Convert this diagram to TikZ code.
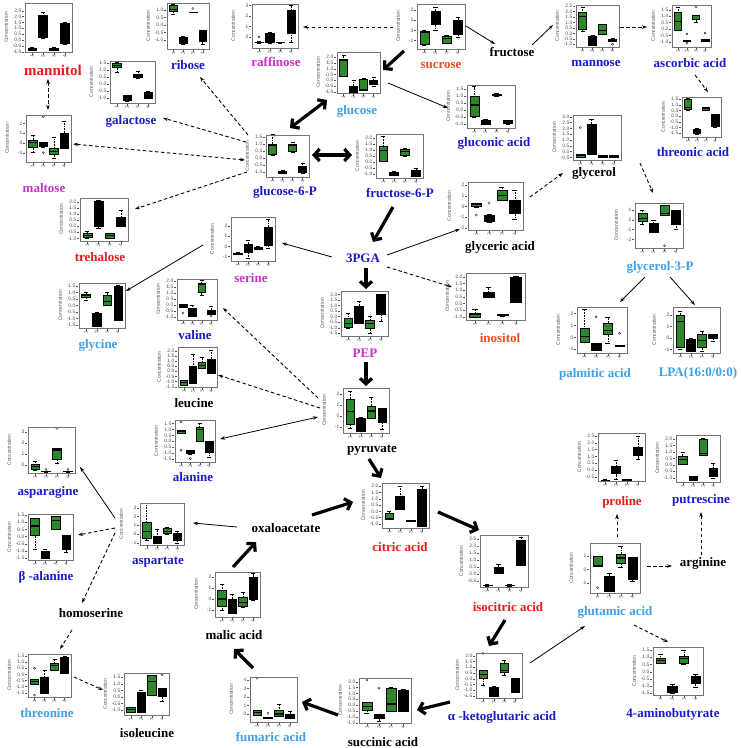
\documentclass[tikz,border=0pt]{standalone}
\usepackage{fontspec}
\setmainfont{Liberation Serif}
\setsansfont{Liberation Sans}
\usetikzlibrary{arrows.meta}
\definecolor{labred}{RGB}{235,25,25}
\definecolor{laborg}{RGB}{240,75,35}
\definecolor{labblue}{RGB}{25,25,205}
\definecolor{lablight}{RGB}{60,160,235}
\definecolor{labmag}{RGB}{205,45,205}
\definecolor{boxgreen}{RGB}{45,135,45}
\definecolor{framegray}{RGB}{115,115,115}
\definecolor{axgray}{RGB}{80,80,80}
\newcommand\labfont{\bfseries\fontsize{13}{14}\selectfont}
\newcommand\labbig{\bfseries\fontsize{15}{16}\selectfont}
\newcommand\tickfont{\sffamily\fontsize{4.9}{5.5}\selectfont}
% box: index, low whisker, q1, median, q3, high whisker
\newcommand\bxp[6]{%
  \ifodd#1\relax\def\bxc{boxgreen}\else\def\bxc{black}\fi
  \draw[whisk] (#1,#2) -- (#1,#3);
  \draw[whisk] (#1,#5) -- (#1,#6);
  \draw[staple] ({#1-0.2},#2) -- ({#1+0.2},#2);
  \draw[staple] ({#1-0.2},#6) -- ({#1+0.2},#6);
  \filldraw[fill=\bxc,draw=black,line width=0.35pt] ({#1-0.4},#3) rectangle ({#1+0.4},#5);
  \draw[line width=1.1pt] ({#1-0.4},#4) -- ({#1+0.4},#4);
}
\newcommand\olp[2]{\draw[line width=0.3pt] (#1,#2) circle[radius=1.1pt];}
% chart: name, left, top, width, height, ymin, ymax, ticks, boxes
\newcommand\mychart[9]{%
  \pgfmathsetmacro\cxu{#4/4.3}%
  \pgfmathsetmacro\cyu{#5/((#7)-(#6))}%
  \begin{scope}[shift={(#2,{#3+#5})}]
  \begin{scope}[x=\cxu pt, y=\cyu pt, shift={(-0.35,{-(#6)})}]
    #9
    \node[framebox, minimum width=#4pt, minimum height=#5pt, anchor=south west] (#1) at (0.35,#6) {};
    \foreach \t in {#8} {\draw[axline] (0.35,\t) ++(-1.5pt,0) -- ++(-1.5pt,0) node[ticklab,anchor=east]{\t};}
    \foreach \i in {1,2,3,4} {\draw[axline] (\i,#6) ++(0,-1pt) -- ++(0,-1.5pt) node[ticklab,rotate=90,anchor=east]{\i};}
    \path (0.35,{((#6)+(#7))/2}) ++(-19pt,0) node[ticklab,rotate=90]{Concentration};
  \end{scope}
  \end{scope}
}
\begin{document}
\begin{tikzpicture}[x=1pt,y=-1pt,
  framebox/.style={draw=framegray,line width=0.5pt,inner sep=0pt,outer sep=0pt},
  whisk/.style={line width=0.35pt,dash pattern=on 0.8pt off 0.8pt},
  staple/.style={line width=0.35pt},
  axline/.style={line width=0.3pt,draw=axgray},
  ticklab/.style={font=\tickfont,text=axgray,inner sep=0.6pt},
  lab/.style={font=\labfont,inner sep=0pt},
  thickarr/.style={line width=3.2pt,-{Straight Barb[length=5.5pt,width=12pt]}},
  thickdbl/.style={line width=3.2pt,{Straight Barb[length=5.5pt,width=12pt]}-{Straight Barb[length=5.5pt,width=12pt]}},
  thinarr/.style={line width=0.8pt,-{Stealth[length=5pt,width=3.5pt]}},
  thindbl/.style={line width=0.8pt,{Stealth[length=5pt,width=3.5pt]}-{Stealth[length=5pt,width=3.5pt]}},
  dasharr/.style={line width=0.9pt,dash pattern=on 3.5pt off 2.5pt,-{Stealth[length=5pt,width=3.5pt]}},
  dashdbl/.style={line width=0.9pt,dash pattern=on 3.5pt off 2.5pt,{Stealth[length=5pt,width=3.5pt]}-{Stealth[length=5pt,width=3.5pt]}}
]
\useasboundingbox[fill=white] (0,0) rectangle (740,748);

% ---------- charts ----------
\mychart{mannitol}{25}{3}{47}{49}{-1.03}{3.16}{-1.0,-0.5,0.0,0.5,1.0,1.5,2.0,2.5}{
 \bxp{1}{-0.9}{-0.85}{-0.78}{-0.68}{-0.65}\bxp{2}{0.15}{0.25}{1.0}{2.1}{2.4}
 \bxp{3}{-0.9}{-0.85}{-0.78}{-0.7}{-0.65}\bxp{4}{-0.35}{-0.3}{0.5}{1.4}{1.5}}
\mychart{ribose}{167}{3}{42}{46}{-1.62}{1.47}{-1.0,-0.5,0.0,0.5,1.0}{
 \bxp{1}{0.7}{0.95}{1.05}{1.3}{1.4}\bxp{2}{-1.3}{-1.25}{-1.1}{-0.8}{-0.78}
 \bxp{3}{0.83}{0.84}{0.85}{0.87}{0.88}\olp{3}{1.1}\bxp{4}{-1.3}{-1.1}{-0.9}{-0.35}{-0.35}}
\mychart{galactose}{110}{61}{45}{42}{-1.38}{1.62}{-1.0,-0.5,0.0,0.5,1.0,1.5}{
 \bxp{1}{0.85}{1.15}{1.3}{1.45}{1.55}\bxp{2}{-1.25}{-1.2}{-1.1}{-0.85}{-0.8}
 \bxp{3}{0.4}{0.45}{0.55}{0.65}{0.9}\bxp{4}{-1.05}{-1.0}{-0.8}{-0.6}{-0.5}}
\mychart{maltose}{26}{115}{45}{47}{-1.95}{2.85}{-1,0,1,2}{
 \bxp{1}{-0.9}{-0.4}{0}{0.3}{0.8}\bxp{2}{-0.4}{-0.35}{-0.2}{0.05}{0.1}\olp{2}{2.7}\olp{2}{-1.0}
 \bxp{3}{-1.6}{-1.2}{-0.9}{-0.5}{0.6}\bxp{4}{-0.5}{-0.5}{0.5}{1.0}{2.2}}
\mychart{raffinose}{252}{4}{46}{44}{-1.05}{3.14}{0,1,2,3}{
 \bxp{1}{-0.55}{-0.52}{-0.5}{-0.45}{-0.42}\olp{1}{0}\bxp{2}{-0.55}{-0.5}{0}{0.4}{0.45}
 \bxp{3}{-0.55}{-0.52}{-0.5}{-0.48}{-0.45}\bxp{4}{-0.5}{0.4}{1.5}{2.6}{3.0}}
\mychart{sucrose}{417}{4}{48}{45}{-1.84}{2.59}{-1,0,1,2}{
 \bxp{1}{-1.45}{-1.37}{-0.2}{-0.07}{0}\bxp{2}{0}{0.65}{1.2}{1.9}{2.25}
 \bxp{3}{-1.3}{-1.25}{-0.85}{-0.55}{-0.45}\bxp{4}{-0.7}{-0.4}{0.3}{1.0}{1.3}}
\mychart{glucose}{337}{52}{43}{41}{-1.11}{2.46}{-1.0,-0.5,0.0,0.5,1.0,1.5,2.0}{
 \bxp{1}{0.35}{0.35}{1.75}{1.8}{2.2}\bxp{2}{-1.0}{-1.0}{-0.7}{-0.5}{0.0}
 \bxp{3}{-0.9}{-0.9}{-0.85}{0.1}{0.2}\bxp{4}{-0.55}{-0.35}{-0.15}{0.05}{0.3}}
\mychart{g6p}{266}{135}{43}{42}{-1.38}{1.62}{-1.0,-0.5,0.0,0.5,1.0,1.5}{
 \bxp{1}{0.2}{0.26}{0.85}{0.98}{1.7}\bxp{2}{-1.12}{-1.1}{-1.0}{-0.93}{-0.9}
 \bxp{3}{0.4}{0.44}{0.85}{0.95}{1.1}\bxp{4}{-1.08}{-1.05}{-0.8}{-0.64}{-0.36}}
\mychart{f6p}{376}{134}{47}{44}{-1.33}{2.31}{-1.0,-0.5,0.0,0.5,1.0,1.5,2.0}{
 \bxp{1}{0.07}{0.07}{0.93}{1.34}{2.15}\bxp{2}{-1.12}{-1.1}{-1.0}{-0.85}{-0.8}
 \bxp{3}{0.45}{0.57}{0.9}{1.04}{1.1}\bxp{4}{-1.15}{-1.15}{-0.9}{-0.7}{-0.55}}
\mychart{gluconic}{467}{85}{48}{43}{-1.29}{1.81}{-1.0,-0.5,0.0,0.5,1.0,1.5}{
 \bxp{1}{-0.5}{-0.47}{0.37}{0.97}{1.7}\bxp{2}{-1.0}{-0.98}{-0.85}{-0.7}{-0.65}
 \bxp{3}{1.0}{1.05}{1.1}{1.15}{1.2}\bxp{4}{-1.0}{-0.95}{-0.85}{-0.75}{-0.7}}
\mychart{mannose}{576}{5}{43}{42}{-1.25}{2.59}{-1.0,-0.5,0.0,0.5,1.0,1.5,2.0,2.5}{
 \bxp{1}{0.2}{0.38}{1.55}{1.9}{2.4}\bxp{2}{-1.05}{-1.05}{-0.8}{-0.25}{-0.2}
 \bxp{3}{-0.12}{-0.12}{0.27}{0.8}{0.8}\bxp{4}{-0.7}{-0.7}{-0.62}{-0.55}{-0.45}\olp{4}{-1.0}}
\mychart{ascorbic}{672}{5}{39}{42}{-1.42}{1.89}{-1.0,-0.5,0.0,0.5,1.0,1.5}{
 \bxp{1}{-0.13}{-0.13}{0.58}{1.29}{1.7}\bxp{2}{-0.95}{-0.94}{-0.92}{-0.9}{-0.88}\olp{2}{-0.39}\olp{2}{-1.12}
 \bxp{3}{0.55}{0.77}{1.05}{1.1}{1.12}\olp{3}{1.76}\bxp{4}{-0.95}{-0.95}{-0.85}{-0.8}{-0.78}\olp{4}{-0.33}}
\mychart{threonic}{682}{97}{39}{40}{-1.82}{1.67}{-1.5,-1.0,-0.5,0.0,0.5,1.0,1.5}{
 \bxp{1}{0.55}{0.6}{0.75}{1.5}{1.6}\bxp{2}{-1.55}{-1.5}{-1.3}{-1.1}{-1.05}
 \bxp{3}{0.5}{0.5}{0.7}{0.8}{0.82}\bxp{4}{-1.0}{-0.85}{-0.6}{0.15}{0.15}}
\mychart{glycerol}{573}{115}{48}{45}{-0.73}{3.15}{-0.5,0.0,0.5,1.0,1.5,2.0,2.5,3.0}{
 \bxp{1}{-0.45}{-0.45}{-0.35}{-0.22}{-0.22}\olp{1}{2.06}\bxp{2}{-0.25}{-0.22}{1.0}{2.37}{2.8}
 \bxp{3}{-0.5}{-0.5}{-0.4}{-0.3}{-0.3}\bxp{4}{-0.5}{-0.5}{-0.4}{-0.3}{-0.3}}
\mychart{glyceric}{468}{182}{55}{48}{-2.19}{2.28}{-2,-1,0,1,2}{
 \bxp{1}{-0.1}{0.0}{0.15}{0.3}{0.35}\olp{1}{-0.8}\bxp{2}{-1.5}{-1.4}{-1.1}{-0.8}{-0.7}\olp{2}{0.3}
 \bxp{3}{0.6}{0.6}{1.0}{1.5}{1.8}\bxp{4}{-1.2}{-0.6}{0}{0.55}{1.5}}
\mychart{g3p}{635}{203}{48}{45}{-2.89}{1.72}{-2,-1,0,1}{
 \bxp{1}{-0.4}{-0.19}{0.1}{0.66}{1.0}\bxp{2}{-1.3}{-1.3}{-0.8}{-0.3}{0.0}
 \bxp{3}{0.5}{0.5}{0.65}{1.5}{1.5}\olp{3}{-2.65}\bxp{4}{-1.0}{-0.46}{0.3}{1.0}{1.0}}
\mychart{palmitic}{577}{307}{50}{46}{-1.31}{2.53}{-1,0,1,2}{
 \bxp{1}{-0.37}{-0.37}{0.05}{0.75}{2.35}\bxp{2}{-1.05}{-1.05}{-0.8}{-0.5}{-0.5}\olp{2}{1.7}
 \bxp{3}{-0.5}{0.28}{0.55}{1.17}{1.7}\bxp{4}{-0.75}{-0.75}{-0.7}{-0.65}{-0.65}\olp{4}{0.33}}
\mychart{lpa}{673}{307}{47}{46}{-1.32}{2.7}{-1,0,1,2}{
 \bxp{1}{-1.0}{-0.77}{1.45}{2.0}{2.35}\bxp{2}{-1.2}{-1.2}{-0.6}{-0.1}{-0.05}
 \bxp{3}{-1.2}{-0.8}{-0.25}{0.35}{0.55}\bxp{4}{-0.3}{0.0}{0.15}{0.3}{0.3}}
\mychart{trehalose}{80}{198}{48}{43}{-1.22}{2.3}{-1.0,-0.5,0.0,0.5,1.0,1.5,2.0}{
 \bxp{1}{-0.95}{-0.9}{-0.8}{-0.6}{-0.45}\bxp{2}{-0.15}{0.03}{1.0}{2.07}{2.1}
 \bxp{3}{-0.95}{-0.95}{-0.8}{-0.6}{-0.55}\bxp{4}{0.0}{0.0}{0.4}{0.77}{1.3}}
\mychart{serine}{231}{217}{44}{44}{-1.43}{2.88}{-1,0,1,2}{
 \bxp{1}{-0.75}{-0.72}{-0.67}{-0.62}{-0.6}\bxp{2}{-1.2}{-0.52}{-0.1}{0.24}{0.6}
 \bxp{3}{-0.3}{-0.25}{-0.2}{-0.1}{0.0}\bxp{4}{-0.2}{0.15}{1.0}{1.9}{2.7}}
\mychart{glycine}{79}{283}{46}{45}{-1.73}{1.73}{-1.5,-1.0,-0.5,0.0,0.5,1.0,1.5}{
 \bxp{1}{0.4}{0.63}{0.75}{0.88}{1.0}\bxp{2}{-1.6}{-1.58}{-1.0}{-0.6}{-0.55}
 \bxp{3}{0.0}{0.04}{0.3}{0.8}{1.0}\bxp{4}{-1.15}{-1.1}{0.0}{1.45}{1.6}}
\mychart{valine}{177}{279}{40}{41}{-1.28}{2.17}{-1.0,-0.5,0.0,0.5,1.0,1.5,2.0}{
 \bxp{1}{-0.2}{-0.2}{-0.1}{0.04}{0.04}\olp{1}{-0.7}\bxp{2}{-0.95}{-0.95}{-0.6}{-0.3}{-0.05}
 \bxp{3}{0.82}{1.1}{1.75}{1.85}{2.1}\bxp{4}{-0.75}{-0.75}{-0.6}{-0.45}{-0.1}\olp{4}{-0.95}}
\mychart{leucine}{178}{347}{39}{40}{-1.53}{2.36}{-1.5,-1.0,-0.5,0.0,0.5,1.0,1.5,2.0}{
 \bxp{1}{-1.4}{-1.4}{-1.1}{-0.85}{-0.85}\bxp{2}{-1.2}{-1.17}{-0.5}{0.45}{1.68}
 \bxp{3}{0.29}{0.29}{0.6}{0.93}{1.35}\bxp{4}{-0.2}{-0.2}{0.5}{1.2}{2.1}}
\mychart{alanine}{175}{420}{40}{42}{-1.73}{1.78}{-1.5,-1.0,-0.5,0.0,0.5,1.0,1.5}{
 \bxp{1}{0.65}{0.67}{0.8}{0.94}{0.95}\olp{1}{1.63}\olp{1}{-0.75}\bxp{2}{-1.05}{-1.0}{-0.85}{-0.72}{-0.7}\olp{2}{-1.45}
 \bxp{3}{-0.03}{-0.03}{1.0}{1.22}{1.55}\bxp{4}{-1.35}{-0.95}{-0.5}{-0.03}{0.05}}
\mychart{asparagine}{28}{427}{47}{46}{-0.72}{3.42}{0,1,2,3}{
 \bxp{1}{-0.45}{-0.39}{-0.15}{0.06}{0.35}\bxp{2}{-0.62}{-0.6}{-0.58}{-0.55}{-0.52}\olp{2}{-0.4}
 \bxp{3}{0.2}{0.5}{1.35}{1.5}{1.5}\olp{3}{3.3}\bxp{4}{-0.62}{-0.6}{-0.58}{-0.55}{-0.52}\olp{4}{-0.4}}
\mychart{balanine}{28}{514}{45}{46}{-1.62}{1.57}{-1.5,-1.0,-0.5,0.0,0.5,1.0,1.5}{
 \bxp{1}{-0.88}{0.11}{0.74}{1.27}{1.3}\bxp{2}{-1.5}{-1.5}{-1.3}{-1.04}{-0.85}
 \bxp{3}{0.5}{0.5}{1.1}{1.43}{1.45}\bxp{4}{-1.05}{-0.9}{-0.5}{0.1}{0.1}}
\mychart{aspartate}{140}{503}{44}{42}{-1.26}{3.54}{-1,0,1,2,3}{
 \bxp{1}{-0.7}{-0.5}{0.26}{1.4}{3.5}\bxp{2}{-1.0}{-1.0}{-0.6}{-0.3}{0.5}
 \bxp{3}{0.0}{0.13}{0.3}{0.7}{0.8}\bxp{4}{-1.1}{-0.7}{-0.4}{0.13}{0.35}}
\mychart{pep}{341}{291}{47}{45}{-1.74}{2.3}{-1.5,-1.0,-0.5,0.0,0.5,1.0,1.5,2.0}{
 \bxp{1}{-1.05}{-0.92}{-0.62}{-0.16}{0.27}\bxp{2}{-0.6}{-0.55}{0.2}{0.95}{1.35}
 \bxp{3}{-1.45}{-1.0}{-0.6}{-0.29}{0.0}\bxp{4}{-0.4}{0.2}{1.0}{2.0}{2.05}}
\mychart{inositol}{466}{273}{59}{47}{-1.25}{2.28}{-1.0,-0.5,0.0,0.5,1.0,1.5,2.0}{
 \bxp{1}{-1.0}{-1.0}{-0.8}{-0.7}{-0.45}\bxp{2}{0.5}{0.5}{0.7}{0.87}{1.2}
 \bxp{3}{-0.95}{-0.92}{-0.88}{-0.83}{-0.8}\bxp{4}{0.1}{0.1}{1.0}{2.0}{2.05}}
\mychart{pyruvate}{343}{388}{46}{45}{-1.58}{2.58}{-1,0,1,2}{
 \bxp{1}{-1.1}{-0.75}{0.39}{1.54}{2.3}\bxp{2}{-1.4}{-1.4}{-0.8}{-0.2}{-0.1}
 \bxp{3}{-0.25}{-0.25}{0.45}{0.9}{1.7}\bxp{4}{-1.2}{-0.6}{0.2}{0.7}{0.7}}
\mychart{citric}{382}{483}{47}{45}{-1.32}{2.24}{-1.0,-0.5,0.0,0.5,1.0,1.5,2.0}{
 \bxp{1}{-0.65}{-0.62}{-0.55}{-0.15}{0.0}\bxp{2}{0.16}{0.16}{0.6}{1.16}{2.0}
 \bxp{3}{-0.8}{-0.78}{-0.75}{-0.72}{-0.7}\bxp{4}{-1.2}{-1.2}{0.3}{1.75}{1.95}}
\mychart{isocitric}{480}{535}{48}{52}{-0.93}{2.79}{-0.5,0.0,0.5,1.0,1.5,2.0,2.5}{
 \bxp{1}{-0.85}{-0.82}{-0.8}{-0.78}{-0.75}\bxp{2}{0.05}{0.07}{0.3}{0.5}{0.7}
 \bxp{3}{-0.85}{-0.82}{-0.8}{-0.78}{-0.75}\bxp{4}{0.6}{0.64}{1.5}{2.4}{2.6}}
\mychart{malic}{215}{572}{45}{45}{-1.64}{2.45}{-1,0,1,2}{
 \bxp{1}{-1.0}{-0.64}{0.0}{0.76}{1.3}\bxp{2}{-1.3}{-1.3}{-0.6}{-0.03}{0.45}
 \bxp{3}{-0.75}{-0.65}{-0.3}{0.2}{0.6}\bxp{4}{-0.1}{-0.03}{1.0}{1.97}{2.3}}
\mychart{fumaric}{250}{677}{47}{45}{-0.94}{4.35}{0,1,2,3,4}{
 \bxp{1}{-0.12}{-0.12}{0.15}{0.47}{0.5}\olp{1}{4.2}\bxp{2}{-0.45}{-0.45}{-0.43}{-0.4}{-0.38}\olp{2}{0.08}
 \bxp{3}{-0.3}{-0.3}{0.0}{0.4}{1.2}\bxp{4}{-0.5}{-0.5}{-0.2}{0.0}{0.35}}
\mychart{succinic}{359}{678}{52}{45}{-1.53}{2.32}{-1.5,-1.0,-0.5,0.0,0.5,1.0,1.5,2.0}{
 \bxp{1}{-0.7}{-0.42}{-0.14}{0.29}{0.29}\olp{1}{2.15}\bxp{2}{-1.35}{-1.13}{-0.95}{-0.76}{-0.76}\olp{2}{1.44}
 \bxp{3}{-0.55}{-0.55}{0.1}{1.44}{1.5}\bxp{4}{-0.55}{-0.55}{0.3}{1.3}{1.35}}
\mychart{akg}{476}{653}{46}{45}{-1.67}{2.23}{-1.5,-1.0,-0.5,0.0,0.5,1.0,1.5,2.0}{
 \bxp{1}{-0.55}{0.03}{0.4}{0.76}{0.76}\olp{1}{2.2}\bxp{2}{-1.5}{-1.5}{-1.1}{-0.7}{-0.65}
 \bxp{3}{0.3}{0.55}{0.7}{1.36}{1.6}\bxp{4}{-1.2}{-1.2}{-0.5}{0.03}{0.05}}
\mychart{glutamic}{590}{543}{50}{50}{-1.74}{1.96}{-1,0,1}{
 \bxp{1}{0.22}{0.22}{0.3}{0.96}{0.96}\olp{1}{-1.35}\bxp{2}{-1.6}{-1.6}{-1.0}{-0.5}{-0.25}
 \bxp{3}{0.2}{0.5}{0.85}{1.15}{1.75}\bxp{4}{-0.9}{-0.75}{0.0}{0.9}{0.9}}
\mychart{proline}{598}{433}{47}{48}{-0.82}{2.72}{-0.5,0.0,0.5,1.0,1.5,2.0,2.5}{
 \bxp{1}{-0.78}{-0.77}{-0.75}{-0.73}{-0.72}\bxp{2}{-0.65}{-0.27}{0.0}{0.3}{0.72}
 \bxp{3}{-0.75}{-0.73}{-0.7}{-0.68}{-0.66}\bxp{4}{0.8}{1.05}{1.3}{1.7}{2.5}}
\mychart{putrescine}{676}{435}{44}{47}{-1.33}{2.31}{-1.0,-0.5,0.0,0.5,1.0,1.5,2.0}{
 \bxp{1}{0.06}{0.06}{0.42}{0.68}{1.0}\bxp{2}{-1.2}{-1.2}{-1.0}{-0.87}{-0.85}
 \bxp{3}{0.78}{0.78}{0.85}{2.0}{2.05}\bxp{4}{-1.05}{-0.9}{-0.5}{-0.22}{0.1}}
\mychart{gaba}{653}{647}{50}{48}{-1.62}{1.71}{-1.5,-1.0,-0.5,0.0,0.5,1.0,1.5}{
 \bxp{1}{0.57}{0.57}{0.8}{0.92}{1.2}\bxp{2}{-1.5}{-1.4}{-1.2}{-1.0}{-0.9}
 \bxp{3}{0.5}{0.57}{0.9}{1.08}{1.5}\bxp{4}{-1.1}{-0.8}{-0.5}{-0.3}{-0.2}}
\mychart{threonine}{28}{654}{43}{43}{-1.85}{1.66}{-1.5,-1.0,-0.5,0.0,0.5,1.0,1.5}{
 \bxp{1}{-0.8}{-0.8}{-0.6}{-0.41}{-0.41}\olp{1}{0.5}\olp{1}{-1.7}\bxp{2}{-1.55}{-1.55}{-1.0}{-0.2}{0.33}
 \bxp{3}{0.3}{0.3}{0.75}{0.95}{1.2}\bxp{4}{0.1}{0.1}{0.8}{1.4}{1.5}}
\mychart{isoleucine}{124}{673}{45}{42}{-1.38}{1.83}{-1.0,-0.5,0.0,0.5,1.0,1.5}{
 \bxp{1}{-1.13}{-1.13}{-0.95}{-0.75}{-0.75}\bxp{2}{-1.13}{-1.13}{-0.3}{0.33}{0.55}
 \bxp{3}{0.15}{0.15}{1.2}{1.67}{1.7}\bxp{4}{-0.3}{0.08}{0.3}{0.67}{0.67}\olp{4}{1.7}}

% ---------- labels ----------
\node[lab,font=\labbig,text=labred] (l-mannitol) at (53,70) {mannitol};
\node[lab,text=labblue] (l-ribose) at (188,65) {ribose};
\node[lab,text=labmag] (l-raffinose) at (276,62) {raffinose};
\node[lab,text=laborg] (l-sucrose) at (441,65) {sucrose};
\node[lab] (l-fructose) at (512,52) {fructose};
\node[lab,text=labblue] (l-mannose) at (596,63) {mannose};
\node[lab,text=labblue] (l-ascorbic) at (690,63) {ascorbic acid};
\node[lab,text=labblue] (l-galactose) at (131,121) {galactose};
\node[lab,text=lablight] (l-glucose) at (357,111) {glucose};
\node[lab,text=labblue] (l-gluconic) at (494,143) {gluconic acid};
\node[lab,text=labblue] (l-threonic) at (693,152) {threonic acid};
\node[lab,text=labmag] (l-maltose) at (44,188) {maltose};
\node[lab,text=labblue] (l-g6p) at (285,192) {glucose-6-P};
\node[lab,text=labblue] (l-f6p) at (400,193) {fructose-6-P};
\node[lab] (l-glycerol) at (594,173) {glycerol};
\node[lab,text=labred] (l-trehalose) at (100,257) {trehalose};
\node[lab,text=labmag] (l-serine) at (251,278) {serine};
\node[lab] (l-glyceric) at (500,247) {glyceric acid};
\node[lab,text=lablight] (l-g3p) at (660,267) {glycerol-3-P};
\node[lab,text=labblue] (l-3pga) at (363,258) {3PGA};
\node[lab,text=laborg] (l-inositol) at (500,338) {inositol};
\node[lab,text=lablight] (l-glycine) at (98,345) {glycine};
\node[lab,text=labblue] (l-valine) at (195,335) {valine};
\node[lab,text=labmag] (l-pep) at (365,353) {PEP};
\node[lab,text=lablight] (l-palmitic) at (595,374) {palmitic acid};
\node[lab,text=lablight] (l-lpa) at (698,373) {LPA(16:0/0:0)};
\node[lab] (l-leucine) at (194,403) {leucine};
\node[lab] (l-pyruvate) at (372,450) {pyruvate};
\node[lab,text=labblue] (l-alanine) at (193,477) {alanine};
\node[lab,text=labblue] (l-asparagine) at (48,492) {asparagine};
\node[lab,text=labred] (l-proline) at (622,502) {proline};
\node[lab,text=labblue] (l-putrescine) at (701,500) {putrescine};
\node[lab,text=labred] (l-citric) at (400,547) {citric acid};
\node[lab] (l-oxalo) at (286,528) {oxaloacetate};
\node[lab,text=labblue] (l-aspartate) at (158,562) {aspartate};
\node[lab,text=labblue] (l-balanine) at (46,577) {β -alanine};
\node[lab,text=labred] (l-isocitric) at (508,607) {isocitric acid};
\node[lab,text=lablight] (l-glutamic) at (615,612) {glutamic acid};
\node[lab] (l-arginine) at (703,563) {arginine};
\node[lab] (l-homoserine) at (91,613) {homoserine};
\node[lab] (l-malic) at (234,635) {malic acid};
\node[lab,text=lablight] (l-threonine) at (47,713) {threonine};
\node[lab] (l-isoleucine) at (147,733) {isoleucine};
\node[lab,text=lablight] (l-fumaric) at (271,737) {fumaric acid};
\node[lab] (l-succinic) at (383,742) {succinic acid};
\node[lab,text=labblue] (l-akg) at (502,717) {α -ketoglutaric acid};
\node[lab,text=labblue] (l-gaba) at (673,714) {4-aminobutyrate};

% ---------- connector ends ----------
\coordinate (suc-w) at (393,27);   \coordinate (raf-e) at (303,27);
\coordinate (suc-e) at (466,26);   \coordinate (fru-w) at (495,44);
\coordinate (suc-sw) at (404,51);  \coordinate (glc-ne) at (383,70);
\coordinate (glc-e) at (388,83);   \coordinate (glcn-w) at (448,108);
\coordinate (glc-sw) at (327,100); \coordinate (g6p-ne) at (290,128);
\coordinate (g6p-e) at (312,155);  \coordinate (f6p-w) at (352,155);
\coordinate (fru-ne) at (532,45);  \coordinate (man-sw) at (553,25);
\coordinate (man-e) at (620,27);   \coordinate (asc-w) at (647,27);
\coordinate (asc-s) at (695,75);   \coordinate (thr-n) at (708,92);
\coordinate (g6p-w1) at (248,135); \coordinate (rib-s) at (200,77);
\coordinate (g6p-w2) at (246,142); \coordinate (gal-e) at (163,118);
\coordinate (g6p-w3) at (245,160); \coordinate (mal-e) at (73,144);
\coordinate (g6p-w4) at (247,172); \coordinate (tre-e) at (135,209);
\coordinate (mtl-s) at (48,79);    \coordinate (mal-n) at (48,110);
\coordinate (f6p-s) at (393,207);  \coordinate (pga-n) at (373,242);
\coordinate (pga-w) at (332,257);  \coordinate (ser-e) at (282,243);
\coordinate (pga-e) at (387,255);  \coordinate (gly-w) at (460,229);
\coordinate (pga-se) at (387,267); \coordinate (ino-w) at (452,287);
\coordinate (pga-s) at (366,268);  \coordinate (pep-n) at (366,289);
\coordinate (ser-w) at (203,245);  \coordinate (glyc-e) at (126,291);
\coordinate (glya-ne) at (530,197);\coordinate (glol-sw) at (563,173);
\coordinate (glol-se) at (640,163);\coordinate (g3p-n) at (653,193);
\coordinate (g3p-s1) at (645,277); \coordinate (pal-n) at (620,302);
\coordinate (g3p-s2) at (670,277); \coordinate (lpa-n) at (695,305);
\coordinate (pep-s) at (366,362);  \coordinate (pyr-n) at (366,386);
\coordinate (pyr-w1) at (318,398); \coordinate (val-e) at (223,308);
\coordinate (pyr-w2) at (320,408); \coordinate (leu-e) at (218,375);
\coordinate (pyr-w3) at (318,417); \coordinate (ala-e) at (220,439);
\coordinate (pyr-s) at (369,459);  \coordinate (cit-n) at (381,478);
\coordinate (oxa-e) at (312,515);  \coordinate (cit-w) at (353,502);
\coordinate (oxa-w) at (237,527);  \coordinate (asp-e) at (193,523);
\coordinate (asp-w1) at (115,518); \coordinate (asn-e) at (80,467);
\coordinate (asp-w2) at (115,528); \coordinate (bal-e) at (78,535);
\coordinate (asp-w3) at (115,533); \coordinate (hom-n) at (82,603);
\coordinate (hom-s) at (72,630);   \coordinate (thn-n) at (60,649);
\coordinate (thn-e) at (74,677);   \coordinate (ile-w) at (103,690);
\coordinate (cit-e) at (438,512);  \coordinate (ici-w) at (479,530);
\coordinate (ici-s) at (505,620);  \coordinate (akg-n) at (489,646);
\coordinate (akg-w) at (450,702);  \coordinate (suc2-e) at (417,710);
\coordinate (suc2-w) at (338,715); \coordinate (fum-e) at (302,702);
\coordinate (fum-n) at (253,668);  \coordinate (mlc-s) at (234,649);
\coordinate (mlc-ne) at (233,567); \coordinate (oxa-sw) at (256,542);
\coordinate (akg-e) at (530,663);  \coordinate (glu-sw) at (585,626);
\coordinate (glu-n) at (617,537);  \coordinate (pro-s) at (617,514);
\coordinate (glu-e) at (647,566);  \coordinate (arg-w) at (672,566);
\coordinate (arg-n) at (701,555);  \coordinate (put-s) at (701,512);
\coordinate (glu-se) at (634,625); \coordinate (gab-nw) at (668,642);

% ---------- connectors ----------
\draw[dasharr] (suc-w) -- (raf-e);
\draw[thinarr] (suc-e) -- (fru-w);
\draw[thickarr] (suc-sw) -- (glc-ne);
\draw[thinarr] (glc-e) -- (glcn-w);
\draw[thickdbl] (glc-sw) -- (g6p-ne);
\draw[thickdbl] (g6p-e) -- (f6p-w);
\draw[thinarr] (fru-ne) -- (man-sw);
\draw[dasharr] (man-e) -- (asc-w);
\draw[dasharr] (asc-s) -- (thr-n);
\draw[dasharr] (g6p-w1) -- (rib-s);
\draw[dasharr] (g6p-w2) -- (gal-e);
\draw[dashdbl] (g6p-w3) -- (mal-e);
\draw[dasharr] (g6p-w4) -- (tre-e);
\draw[dashdbl] (mtl-s) -- (mal-n);
\draw[thickarr] (f6p-s) -- (pga-n);
\draw[thinarr] (pga-w) -- (ser-e);
\draw[thinarr] (pga-e) -- (gly-w);
\draw[dasharr] (pga-se) -- (ino-w);
\draw[thickarr] (pga-s) -- (pep-n);
\draw[thinarr] (ser-w) -- (glyc-e);
\draw[dasharr] (glya-ne) -- (glol-sw);
\draw[dasharr] (glol-se) -- (g3p-n);
\draw[thinarr] (g3p-s1) -- (pal-n);
\draw[thinarr] (g3p-s2) -- (lpa-n);
\draw[thickarr] (pep-s) -- (pyr-n);
\draw[dasharr] (pyr-w1) -- (val-e);
\draw[dasharr] (pyr-w2) -- (leu-e);
\draw[thindbl] (pyr-w3) -- (ala-e);
\draw[thickarr] (pyr-s) -- (cit-n);
\draw[thickarr] (oxa-e) -- (cit-w);
\draw[thinarr] (oxa-w) -- (asp-e);
\draw[thinarr] (asp-w1) -- (asn-e);
\draw[dasharr] (asp-w2) -- (bal-e);
\draw[dasharr] (asp-w3) -- (hom-n);
\draw[dasharr] (hom-s) -- (thn-n);
\draw[dasharr] (thn-e) -- (ile-w);
\draw[thickarr] (cit-e) -- (ici-w);
\draw[thickarr] (ici-s) -- (akg-n);
\draw[thickarr] (akg-w) -- (suc2-e);
\draw[thickarr] (suc2-w) -- (fum-e);
\draw[thickarr] (fum-n) -- (mlc-s);
\draw[thickarr] (mlc-ne) -- (oxa-sw);
\draw[thinarr] (akg-e) -- (glu-sw);
\draw[dasharr] (glu-n) -- (pro-s);
\draw[dasharr] (glu-e) -- (arg-w);
\draw[dasharr] (arg-n) -- (put-s);
\draw[dasharr] (glu-se) -- (gab-nw);
\end{tikzpicture}
\end{document}
